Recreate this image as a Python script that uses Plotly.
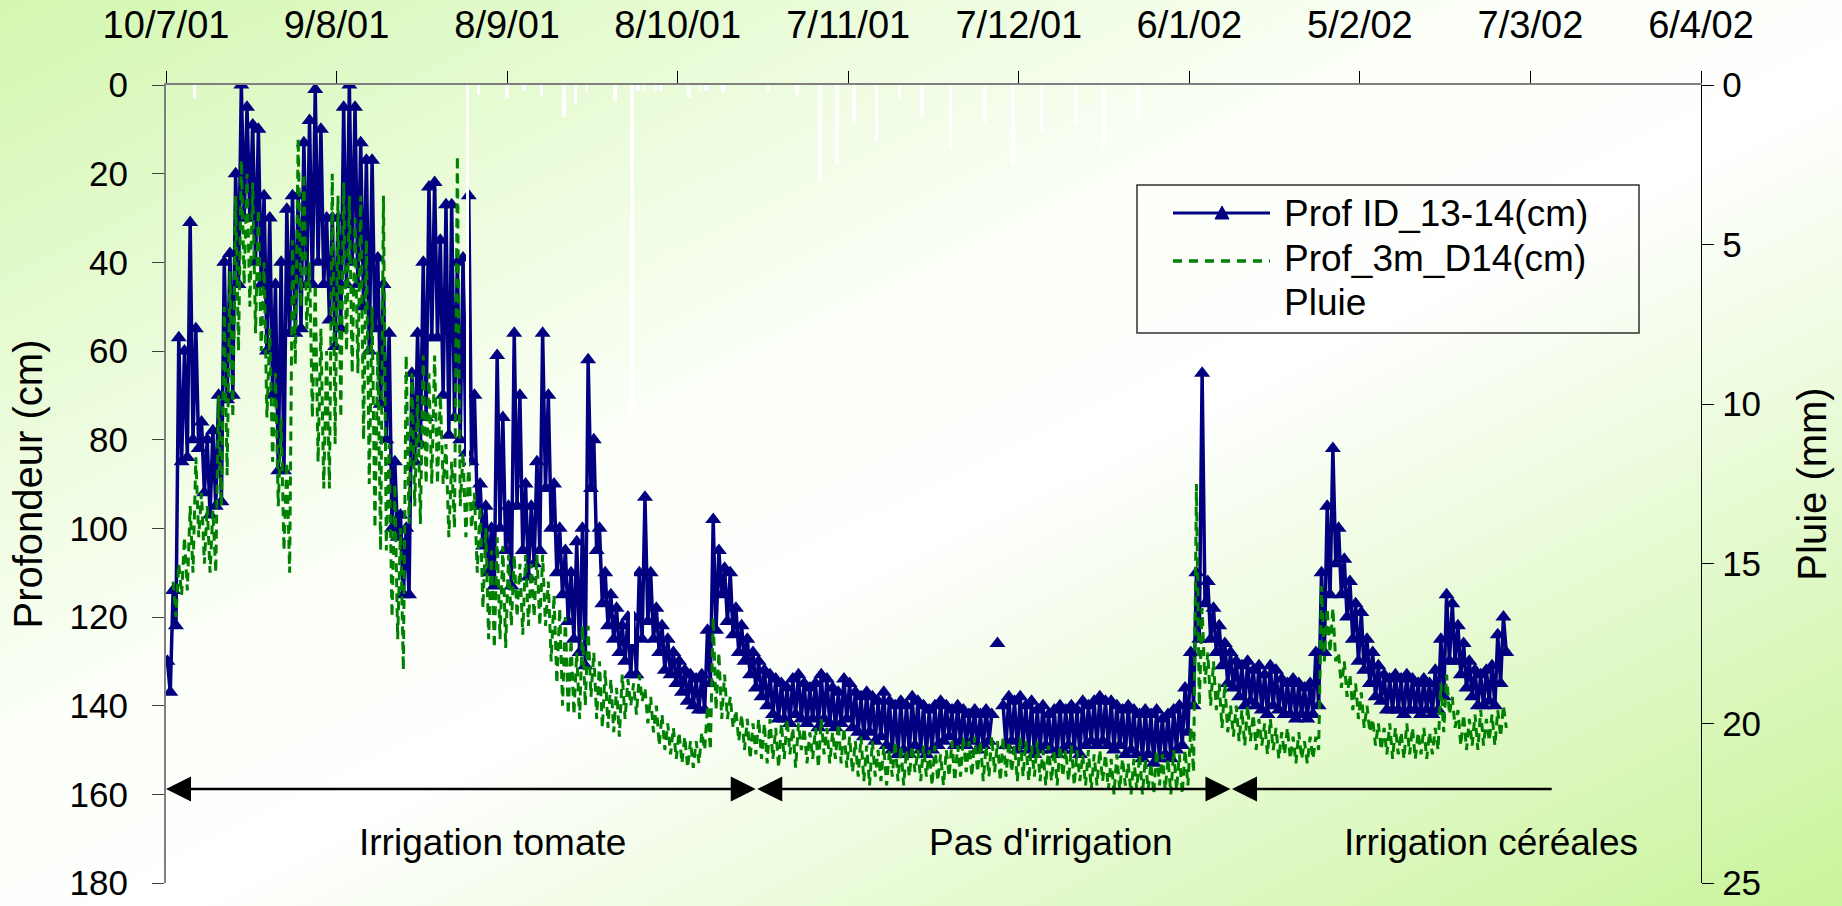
import base64
import pandas as pd
import plotly.graph_objects as go

# ---------------- data ----------------
# Prof ID_13-14 : daily shallow reading (haut) and deep reading (bas), from 10/7/01
debut_id = "2001-07-10"
prof_id_haut = [
    130, 114, 57, 60, 31, 55, 76, 80, 78, 70,
    40, 38, 20, 0, 5, 9, 10, 25, 30, 45,
    40, 28, 25, 25, 13, 8, 1, 10, 30, 30,
    30, 5, 0, 5, 13, 17, 17, 39, 45, 56,
    85, 97, 100, 65, 56, 40, 23, 22, 35, 27,
    27, 40, 39, 25, 70, 90, 95, 100, 61, 75,
    95, 56, 70, 90, 95, 85, 56, 70, 90, 100,
    105, 110, 103, 100, 62, 80, 100, 110, 115, 118,
    122, 120, 120, 110, 93, 110, 118, 122, 125, 128,
    130, 132, 133, 134, 133, 123, 98, 105, 109, 110,
    118, 122, 125, 128, 130, 132, 133, 134, 135, 136,
    134, 133, 135, 136, 135, 133, 134, 136, 137, 134,
    135, 137, 138, 137, 138, 139, 137, 139, 140, 139,
    140, 138, 139, 140, 141, 140, 139, 140, 141, 140,
    141, 142, 141, 142, 141, 142, 126, 140, 138, 139,
    138, 140, 139, 141, 140, 142, 141, 140, 141, 140,
    141, 139, 140, 139, 138, 139, 139, 140, 141, 140,
    141, 142, 141, 142, 141, 143, 142, 141, 140, 136,
    128, 110, 65, 112, 118, 122, 126, 128, 130, 131,
    130, 132, 131, 133, 131, 132, 134, 135, 134, 135,
    136, 135, 128, 110, 95, 82, 100, 107, 112, 117,
    119, 125, 128, 131, 133, 134, 133, 134, 133, 134,
    135, 134, 135, 132, 125, 115, 117, 122, 126, 130,
    132, 133, 132, 131, 124, 120,
]
prof_id_bas = [
    137, 122, 85, 84, 80, 82, 92, 97, 95, 94,
    71, 70, 45, 30, 30, 40, 45, 60, 70, 87,
    87, 56, 56, 55, 45, 45, 40, 45, 53, 59,
    55, 45, 40, 45, 50, 60, 55, 72, 80, 100,
    102, 115, 115, 85, 81, 75, 57, 57, 70, 79,
    75, 80, 83, 85, 95, 104, 110, 113, 100, 105,
    113, 95, 105, 111, 108, 105, 91, 100, 110, 115,
    121, 125, 128, 131, 91, 105, 117, 122, 125, 128,
    130, 133, 133, 125, 121, 125, 128, 132, 133, 135,
    137, 139, 140, 141, 141, 135, 123, 115, 121, 124,
    128, 130, 133, 136, 138, 140, 142, 143, 143, 144,
    142, 143, 144, 143, 145, 143, 144, 145, 144, 143,
    145, 146, 147, 146, 148, 147, 149, 150, 151, 150,
    151, 149, 150, 151, 150, 149, 148, 147, 149, 148,
    149, 148, 150, 149, 148, None, None, 149, 148, 150,
    149, 150, 151, 150, 149, 150, 151, 150, 149, 150,
    151, 149, 148, 149, 148, 149, 150, 149, 151, 150,
    151, 152, 151, 153, 152, 151, 152, 150, 149, 146,
    140, 125, 117, 125, 128, 131, 135, 136, 138, 140,
    139, 140, 141, 142, 140, 141, 142, 142, 143, 142,
    143, 142, 140, 128, 115, 108, 115, 120, 125, 130,
    132, 135, 138, 139, 141, 141, 141, 142, 141, 141,
    142, 141, 142, 141, 138, 130, 130, 133, 136, 138,
    140, 140, 139, 140, 135, 128,
]

# Prof_3m_D14 : daily shallow / deep readings, from 11/7/01
debut_3m = "2001-07-11"
prof_3m_haut = [
    112, 108, 102, 95, 84, 92, 95, 96, 70, 50,
    42, 25, 17, 20, 22, 28, 40, 55, 65, 75,
    85, 35, 12, 20, 40, 45, 55, 60, 20, 25,
    22, 25, 30, 25, 35, 50, 60, 25, 81, 90,
    100, 61, 65, 70, 61, 65, 61, 70, 81, 85,
    16, 83, 85, 92, 95, 100, 105, 102, 104, 106,
    106, 108, 106, 108, 106, 106, 112, 115, 118, 120,
    125, 128, 122, 122, 128, 130, 132, 134, 136, 133,
    134, 135, 133, 136, 138, 140, 142, 144, 145, 146,
    147, 148, 148, 146, 140, 120, 128, 133, 138, 141,
    142, 143, 144, 143, 144, 143, 145, 144, 143, 145,
    144, 145, 146, 145, 143, 145, 146, 144, 145, 147,
    148, 147, 149, 148, 150, 149, 150, 148, 149, 150,
    149, 150, 149, 150, 149, 151, 150, 148, 149, 147,
    148, 147, 148, 149, 147, 148, 147, 148, 149, 147,
    148, 149, 148, 150, 149, 150, 149, 150, 149, 150,
    151, 150, 151, 150, 151, 152, 151, 152, 153, 152,
    151, 152, 153, 150, 151, 152, 150, 151, 150, 145,
    90, 118, 128, 130, 135, 135, 140, 140, 141, 140,
    142, 143, 144, 143, 145, 146, 145, 147, 146, 148,
    147, 147, 113, 118, 118, 128, 130, 133, 135, 137,
    140, 143, 144, 145, 144, 145, 146, 144, 145, 146,
    145, 146, 145, 135, 133, 138, 141, 142, 143, 142,
    141, 143, 142, 141, 140,
]
prof_3m_bas = [
    120, 115, 114, 110, 102, 108, 110, 110, 95, 88,
    75, 60, 45, 50, 56, 60, 75, 85, 95, 105,
    110, 63, 50, 55, 75, 85, 91, 91, 81, 75,
    60, 65, 65, 80, 90, 100, 105, 105, 120, 125,
    132, 99, 95, 99, 90, 90, 90, 90, 102, 100,
    95, 102, 100, 110, 118, 125, 127, 125, 127, 122,
    120, 124, 122, 120, 122, 122, 130, 135, 140, 142,
    142, 143, 140, 138, 143, 145, 145, 146, 147, 143,
    140, 142, 139, 144, 146, 149, 150, 151, 152, 153,
    154, 154, 153, 150, 150, 141, 143, 143, 145, 148,
    150, 152, 151, 152, 153, 152, 154, 152, 151, 154,
    150, 153, 152, 154, 151, 153, 152, 153, 154, 155,
    156, 157, 158, 156, 157, 158, 156, 157, 158, 156,
    155, 157, 156, 158, 157, 158, 156, 157, 156, 155,
    156, 155, 157, 156, 155, 157, 156, 155, 157, 156,
    157, 156, 157, 158, 157, 158, 156, 157, 158, 157,
    158, 159, 158, 157, 159, 160, 159, 158, 160, 159,
    160, 159, 160, 158, 159, 160, 159, 160, 158, 155,
    140, 135, 140, 141, 145, 146, 147, 148, 149, 148,
    150, 149, 151, 150, 152, 151, 152, 153, 152, 153,
    152, 150, 130, 128, 130, 136, 138, 141, 143, 145,
    146, 149, 150, 151, 152, 151, 152, 151, 152, 151,
    152, 151, 150, 146, 142, 145, 149, 150, 149, 150,
    149, 148, 149, 147, 145,
]

pluie_dates = [
    "2001-07-15", "2001-09-01", "2001-09-03", "2001-09-08", "2001-09-11",
    "2001-09-14", "2001-09-18", "2001-09-20", "2001-09-22", "2001-09-27",
    "2001-09-30", "2001-10-01", "2001-10-02", "2001-10-04", "2001-10-05",
    "2001-10-10", "2001-10-12", "2001-10-13", "2001-10-16", "2001-10-24",
    "2001-10-29", "2001-11-02", "2001-11-05", "2001-11-08", "2001-11-12",
    "2001-11-16", "2001-11-20", "2001-11-25", "2001-12-01", "2001-12-06",
    "2001-12-11", "2001-12-17", "2001-12-22", "2001-12-28",
]
pluie_mm = [
    0.4, 12.0, 0.3, 0.4, 0.2,
    0.35, 1.0, 0.6, 0.2, 0.5,
    17.5, 0.2, 0.2, 0.2, 0.2,
    0.4, 0.2, 0.2, 0.25, 0.2,
    0.3, 3.0, 2.5, 1.2, 1.8,
    0.4, 1.0, 2.0, 1.2, 2.5,
    1.5, 1.2, 2.0, 1.0,
]

tick_dates = ["2001-07-10", "2001-08-09", "2001-09-08", "2001-10-08", "2001-11-07",
              "2001-12-07", "2002-01-06", "2002-02-05", "2002-03-07", "2002-04-06"]
tick_labels = ["10/7/01", "9/8/01", "8/9/01", "8/10/01", "7/11/01",
               "7/12/01", "6/1/02", "5/2/02", "7/3/02", "6/4/02"]
prof_ticks = [0, 20, 40, 60, 80, 100, 120, 140, 160, 180]
pluie_ticks = [0, 5, 10, 15, 20, 25]

periode_bornes = ["2001-07-10", "2001-10-22", "2002-01-13 12:00", "2002-03-11"]
periode_noms = ["Irrigation tomate", "Pas d'irrigation", "Irrigation céréales"]
periode_centres = ["2001-09-05 12:00", "2001-12-12 18:00", "2002-02-28"]
niveau_fleche = 158.8
niveau_texte = 170.8

# ---------------- layout constants ----------------
W, H = 1842, 906
ML, MR, MT, MB = 166, 141, 85, 23
PW, PH = W - ML - MR, H - MT - MB
FONT = "Liberation Sans, Arial, sans-serif"
NAVY = "#000080"
GREEN = "#008000"


def px_x(p):
    return (p - ML) / PW


def px_y(p):
    return 1 - (p - MT) / PH


def interleave(start, haut, bas):
    days = pd.date_range(start, periods=len(haut), freq="D")
    xs, ys = [], []
    for d, h, b in zip(days, haut, bas):
        xs += [d + pd.Timedelta(hours=6), d + pd.Timedelta(hours=18)]
        ys += [h, b]
    return xs, ys


x_id, y_id = interleave(debut_id, prof_id_haut, prof_id_bas)
x_3m, y_3m = interleave(debut_3m, prof_3m_haut, prof_3m_bas)

fig = go.Figure()

fig.add_trace(go.Scatter(
    x=x_id, y=y_id, name="Prof ID_13-14(cm)",
    mode="lines+markers", connectgaps=False,
    line=dict(color=NAVY, width=3.5),
    marker=dict(symbol="triangle-up", size=14, color=NAVY),
    yaxis="y", showlegend=False,
))
fig.add_trace(go.Scatter(
    x=x_3m, y=y_3m, name="Prof_3m_D14(cm)",
    mode="lines",
    line=dict(color=GREEN, width=3, dash="9px,6px"),
    yaxis="y", showlegend=False,
))
fig.add_trace(go.Bar(
    x=pluie_dates, y=pluie_mm, name="Pluie",
    marker=dict(color="white", line=dict(width=0)),
    width=0.6 * 86400000, yaxis="y2", showlegend=False,
))

# background gradient
svg = (
    f'<svg xmlns="http://www.w3.org/2000/svg" width="{W}" height="{H}" '
    f'viewBox="0 0 {W} {H}" preserveAspectRatio="none">'
    '<defs><linearGradient id="g" x1="0" y1="0" x2="1" y2="1">'
    '<stop offset="0" stop-color="#d3f7b0"/>'
    '<stop offset="0.40" stop-color="#fbfff7"/>'
    '<stop offset="0.55" stop-color="#ffffff"/>'
    '<stop offset="1" stop-color="#c8f49a"/>'
    '</linearGradient></defs>'
    f'<rect x="0" y="0" width="{W}" height="{H}" fill="url(#g)"/></svg>'
)
bg_src = "data:image/svg+xml;base64," + base64.b64encode(svg.encode()).decode()

annotations = []
shapes = []

arrow_common = dict(xref="x", yref="y", axref="x", ayref="y", text="",
                    showarrow=True, arrowcolor="black", arrowwidth=2.5)
annotations.append(dict(x=periode_bornes[0], y=niveau_fleche,
                        ax=periode_bornes[1], ay=niveau_fleche,
                        arrowhead=2, arrowsize=2, arrowside="end+start",
                        startarrowhead=2, startarrowsize=2, **arrow_common))
annotations.append(dict(x=periode_bornes[1], y=niveau_fleche,
                        ax=periode_bornes[2], ay=niveau_fleche,
                        arrowhead=2, arrowsize=2, arrowside="end+start",
                        startarrowhead=2, startarrowsize=2, **arrow_common))
annotations.append(dict(x=periode_bornes[2], y=niveau_fleche,
                        ax=periode_bornes[3], ay=niveau_fleche,
                        arrowhead=2, arrowsize=2, arrowside="end", **arrow_common))
for nom, c in zip(periode_noms, periode_centres):
    annotations.append(dict(x=c, y=niveau_texte, xref="x", yref="y", text=nom,
                            showarrow=False, xanchor="center", yanchor="middle",
                            font=dict(family=FONT, size=37, color="black")))

# legend box drawn by hand (long line symbols like the original)
shapes.append(dict(type="rect", xref="paper", yref="paper",
                   x0=px_x(1137), x1=px_x(1639), y0=px_y(333), y1=px_y(185),
                   line=dict(color="#303030", width=1.5), fillcolor="rgba(0,0,0,0)"))
shapes.append(dict(type="line", xref="paper", yref="paper",
                   x0=px_x(1173), x1=px_x(1270), y0=px_y(213), y1=px_y(213),
                   line=dict(color=NAVY, width=3)))
tri = "M {:.5f},{:.5f} L {:.5f},{:.5f} L {:.5f},{:.5f} Z".format(
    px_x(1215), px_y(219), px_x(1229), px_y(219), px_x(1222), px_y(206))
shapes.append(dict(type="path", xref="paper", yref="paper", path=tri,
                   fillcolor=NAVY, line=dict(color=NAVY, width=1)))
shapes.append(dict(type="line", xref="paper", yref="paper",
                   x0=px_x(1173), x1=px_x(1270), y0=px_y(261), y1=px_y(261),
                   line=dict(color=GREEN, width=3.5, dash="9px,7px")))
for name, py in zip(["Prof ID_13-14(cm)", "Prof_3m_D14(cm)", "Pluie"], [214, 258, 302]):
    annotations.append(dict(xref="paper", yref="paper", x=px_x(1282), y=px_y(py),
                            text=name, showarrow=False, xanchor="left", yanchor="middle",
                            font=dict(family=FONT, size=37, color="black")))

fig.update_layout(
    width=W, height=H,
    margin=dict(l=ML, r=MR, t=MT, b=MB, pad=0, autoexpand=False),
    paper_bgcolor="white",
    plot_bgcolor="rgba(0,0,0,0)",
    showlegend=False,
    font=dict(family=FONT, color="black"),
    bargap=0,
    images=[dict(source=bg_src, xref="paper", yref="paper",
                 x=-ML / PW, y=1 + MT / PH, sizex=W / PW, sizey=H / PH,
                 xanchor="left", yanchor="top", sizing="stretch", layer="below")],
    xaxis=dict(
        type="date", side="top", automargin=False,
        range=[tick_dates[0], tick_dates[-1]],
        tickvals=tick_dates, ticktext=tick_labels,
        ticks="outside", ticklen=12, tickwidth=1.2, tickcolor="black",
        ticklabelstandoff=18, ticklabeloverflow="allow",
        showline=True, linecolor="#7f7f7f", linewidth=2,
        showgrid=False, zeroline=False,
        tickfont=dict(family=FONT, size=38, color="black"),
    ),
    yaxis=dict(
        range=[180, 0], tickvals=prof_ticks, automargin=False,
        ticks="outside", ticklen=12, tickwidth=1.2, tickcolor="#404040",
        ticklabelstandoff=17, ticklabeloverflow="allow",
        showline=True, linecolor="#7f7f7f", linewidth=2,
        showgrid=False, zeroline=False,
        tickfont=dict(family=FONT, size=35, color="black"),
        title=dict(text="Profondeur (cm)", standoff=15,
                   font=dict(family=FONT, size=40, color="black")),
    ),
    yaxis2=dict(
        overlaying="y", side="right", automargin=False,
        range=[25, 0], tickvals=pluie_ticks,
        ticks="outside", ticklen=12, tickwidth=1.2, tickcolor="black",
        ticklabelstandoff=1, ticklabeloverflow="allow",
        showline=True, linecolor="black", linewidth=1.3,
        showgrid=False, zeroline=False,
        tickfont=dict(family=FONT, size=35, color="black"),
        title=dict(text="Pluie (mm)", standoff=37,
                   font=dict(family=FONT, size=40, color="black")),
    ),
    annotations=annotations,
    shapes=shapes,
)

fig.write_html(
    "out.html",
    config={"displayModeBar": False},
    post_script=(
        "document.documentElement.style.overflow='hidden';"
        "document.body.style.margin='0';document.body.style.overflow='hidden';"
        "var gd=document.getElementById('{plot_id}');"
        "gd.style.position='absolute';gd.style.left='0px';gd.style.top='0px';"
    ),
)
